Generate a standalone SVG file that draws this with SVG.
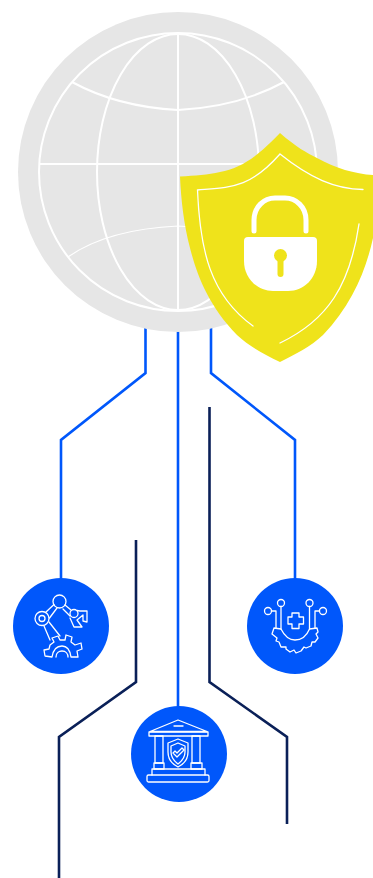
<svg xmlns="http://www.w3.org/2000/svg" width="373" height="878" viewBox="0 0 373 878">
<style>
.blue{fill:none;stroke:#0057fb;stroke-width:2.600}
.navy{fill:none;stroke:#0a2058;stroke-width:2.600}
.grid{fill:none;stroke:#fff;stroke-width:2}
.ic{fill:none;stroke:#fff;stroke-width:1.300;stroke-linejoin:round;stroke-linecap:round}
.disc{fill:#0057fb}
</style>
<g id="connectors">
<path class="blue" d="M145.500 325V373L61 440V580"/>
<path class="blue" d="M178 325V708"/>
<path class="blue" d="M211 325V373L295 440V580"/>
<path class="navy" d="M136 540V682L59 737V878"/>
<path class="navy" d="M209.500 407V682L287 737V824"/>
</g>
<g id="globe">
<circle cx="178" cy="172" r="160" fill="#e6e6e6"/>
<circle class="grid" cx="178" cy="172" r="139"/>
<ellipse class="grid" cx="178" cy="172" rx="81" ry="138"/>
<path class="grid" d="M178 33V311M39 164H317"/>
<path class="grid" d="M72 82C105 100 140 108 178 110C216 108 251 100 284 82"/>
<path class="grid" style="stroke-width:1.200" d="M68 257C95 238 135 228 178 226C220 228 260 238 288 257"/>
</g>
<g id="shield">
<path d="M280 133C296 147 307 153 317 158C335 168 355 174 373 175V238C366 270 352 305 323 335C310 347 296 354 280 362C264 354 250 347 237 335C208 305 197 275 190 248C184 225 181 200 180 176.500C195 175.500 208 175 220 172C240 168 255 159 280 133Z" fill="#efe31b"/>
<path d="M363 189.500C335 189 310 178 280 154C250 188 232 187 197.500 190C200 250 210 295 253 326" fill="none" stroke="#fff" stroke-width="1.300" stroke-linecap="round" stroke-linejoin="miter"/>
<path d="M359 224C350 285 328 320 280 343" fill="none" stroke="#fff" stroke-width="1.300" stroke-linecap="round"/>
<path d="M254 231V220C254 207 264 198 275 198H285C296 198 306 207 306 220V231" fill="none" stroke="#fff" stroke-width="5" stroke-linecap="round"/>
<path d="M248 237H313Q317 237 317 241V261C317 278 304 291 288 291H273C257 291 244 278 244 261V241Q244 237 248 237Z" fill="#fff"/>
<circle cx="280.500" cy="255.500" r="6.500" fill="#efe31b"/>
<path d="M280.500 258V274" stroke="#efe31b" stroke-width="6" stroke-linecap="round"/>
</g>
<g id="node-robot">
<circle class="disc" cx="61" cy="626" r="48"/>
<g class="ic">
<circle cx="59.500" cy="601.500" r="6.500"/>
<circle cx="42" cy="618.500" r="7"/>
<circle cx="42" cy="618.500" r="3"/>
<circle cx="74" cy="613.500" r="4"/>
<path d="M46 612L54 604.500M49.500 618L57 608M65 605L71 610M63 609L70 616"/>
<path d="M44 626L50 640M49 622L60 636"/>
<path d="M77 610.500L80 611H87L87 622L83 621L83 615L77 620L82 627L74 627L70 618"/>
<path d="M45 656L44 650L49 649L50 645L54 642L52 638L58 636L60 640L65 640L66 635L72 637L71 642L75 645L81 643L82 649L77 651L78 657H71C70 650 67 646 62 646C56 646 53 651 52 657Z"/>
<path d="M56 657C56 653 59 651 62 651C66 651 68 654 68 657"/>
</g>
</g>
<g id="node-medical">
<circle class="disc" cx="295" cy="626" r="48"/>
<g class="ic">
<circle cx="281" cy="603" r="3.500"/>
<circle cx="309.500" cy="603" r="3.500"/>
<circle cx="268" cy="611" r="3.500"/>
<circle cx="323" cy="611" r="3.500"/>
<path d="M271.500 611H276V628M319.500 611H315V628M281 606.500V629M309.500 606.500V629"/>
<path d="M292 613H299V617H303.500V624H299V628.500H292V624H288V617H292Z"/>
<path d="M281 629C284 635 288 640 295 640C302 640 307 635 309.500 629L317 628L318 632L316 634L318 638L315 642L312 642L311 646L306 648L304 647L301 651L296 653L294 650L290 652L286 649L286 647L281 647L279 642L276 641L277 638L272 634L274 628Z"/>
</g>
</g>
<g id="node-bank">
<circle class="disc" cx="179" cy="754" r="48"/>
<g class="ic">
<path d="M150 731.500L178 720L207 731.500Z"/>
<path d="M174 726H183"/>
<rect x="149" y="732" width="59" height="4"/>
<path d="M155 736H163V763H155ZM192 736H200V763H192Z"/>
<path d="M154 763H164V769H154ZM191 763H202V769H191Z"/>
<path d="M178 739L168 743V752C168 760 172 764 178 767C184 764 188 760 188 752V743Z"/>
<path d="M178 743L171 746V752C171 758 174 761 178 764C182 761 185 758 185 752V746Z"/>
<path d="M173 753L177 757L184 750L182 748L177 753L175 751Z"/>
<path d="M152 775V769H205V775"/>
<rect x="147" y="775" width="62" height="7" rx="1.500"/>
</g>
</g>
</svg>
